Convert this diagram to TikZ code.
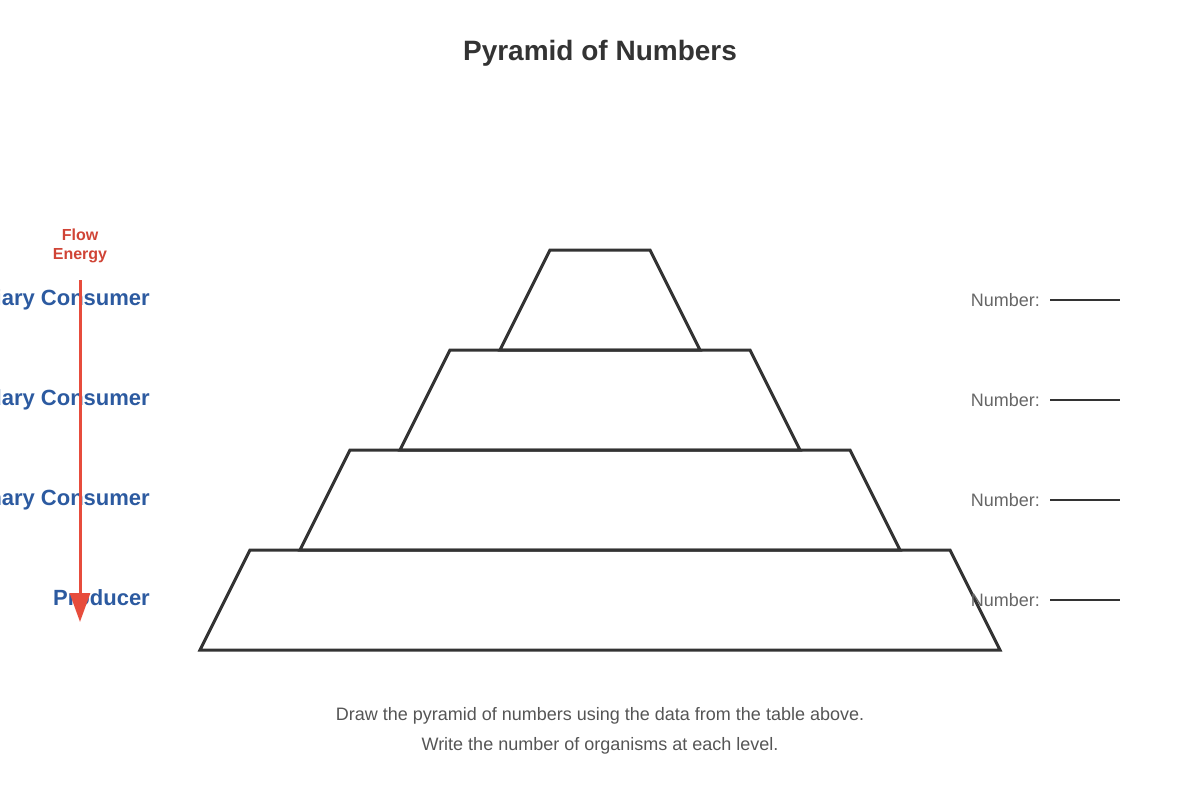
\documentclass[tikz,border=0pt]{standalone}
\usepackage{fontspec}
\setmainfont{Liberation Sans}
\usepackage{xcolor}
\usetikzlibrary{arrows.meta}
\definecolor{inkdark}{HTML}{333333}
\definecolor{levelblue}{HTML}{2C5AA0}
\definecolor{flowred}{HTML}{E74C3C}
\definecolor{notegray}{HTML}{555555}
\definecolor{numgray}{HTML}{666666}
\tikzset{
  tier/.style={draw=inkdark,line width=3pt,line join=miter},
  levellabel/.style={anchor=base east,text=levelblue,font=\bfseries\fontsize{22}{26}\selectfont,inner sep=0pt},
  numlabel/.style={anchor=base east,text=numgray,font=\fontsize{18}{22}\selectfont,inner sep=0pt},
  blankline/.style={draw=inkdark,line width=2pt},
  note/.style={anchor=base,text=notegray,font=\fontsize{18}{22}\selectfont,inner sep=0pt}
}
\begin{document}
\begin{tikzpicture}[x=1pt,y=-1pt]
   \useasboundingbox (0,0) rectangle (1200,800);
   \node[anchor=base,text=inkdark,font=\bfseries\fontsize{28}{34}\selectfont,inner sep=0pt] (title) at (600,60) {Pyramid of Numbers};
   % pyramid, top tier first
   \draw[tier] (500,350) -- (550,250) -- (650,250) -- (700,350) -- cycle;
   \draw[tier] (400,450) -- (450,350) -- (750,350) -- (800,450) -- cycle;
   \draw[tier] (300,550) -- (350,450) -- (850,450) -- (900,550) -- cycle;
   \draw[tier] (200,650) -- (250,550) -- (950,550) -- (1000,650) -- cycle;
   % levels and blanks
   \foreach \y/\name/\lbl in {305/tert/Tertiary Consumer,405/sec/Secondary Consumer,505/prim/Primary Consumer,605/prod/Producer}{
     \node[levellabel] (\name) at (150,\y) {\lbl};
   }
   \foreach \y/\name in {306/tert,406/sec,506/prim,606/prod}{
     \node[numlabel] (num\name) at (1040,\y) {Number:};
     \coordinate (blankA\name) at (1050,\y-6);
     \coordinate (blankB\name) at (1120,\y-6);
     \draw[blankline] (blankA\name) -- (blankB\name);
   }
   % energy flow
   \node[anchor=base,text=flowred!90!black,font=\bfseries\fontsize{16}{20}\selectfont,inner sep=0pt] (flowA) at (80,240.5) {Flow};
   \node[anchor=base,text=flowred!90!black,font=\bfseries\fontsize{16}{20}\selectfont,inner sep=0pt] (flowB) at (80,259.5) {Energy};
   \coordinate (flowtop) at (80,280);
   \coordinate (flowend) at (80,622);
   \draw[flowred,line width=3pt,-{Triangle[width=20pt,length=29pt]}] (flowtop) -- (flowend);
   \node[note] (noteA) at (600,720) {Draw the pyramid of numbers using the data from the table above.};
   \node[note] (noteB) at (600,750) {Write the number of organisms at each level.};
\end{tikzpicture}
\end{document}
